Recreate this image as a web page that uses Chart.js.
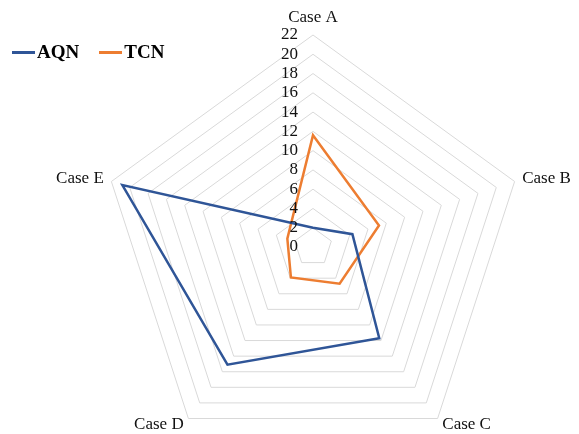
<!DOCTYPE html>
<html>
<head>
<meta charset="utf-8">
<script src="https://cdn.jsdelivr.net/npm/chart.js@4.4.1/dist/chart.umd.min.js"></script>
<style>
    body { margin: 0; background: #fff; overflow: hidden; }
    #wrap { position: relative; width: 579px; height: 434px; overflow: hidden; }
    #legende { position: absolute; left: 12px; top: 41px; font: bold 19px "Liberation Serif", serif; color: #000; white-space: nowrap; }
    #legende span.item { display: inline-block; margin-right: 20px; }
    #legende span.trait { display: inline-block; width: 23px; height: 3px; vertical-align: middle; margin-right: 2px; position: relative; top: -1px; }
</style>
</head>
<body>
<div id="wrap">
    <!-- canvas taller than the frame: Excel fits the pentagon, Chart.js fits the circle -->
    <canvas id="radarChart" width="579" height="460"></canvas>
    <div id="legende"></div>
</div>
<script>
const cases = ["Case A", "Case B", "Case C", "Case D", "Case E"];

const aqn = [2, 4.3, 11.7, 15.1, 20.8];
const tcn = [11.6, 7.2, 4.7, 3.9, 2.8];

const graduations = [0, 2, 4, 6, 8, 10, 12, 14, 16, 18, 20, 22];

const couleurs = { AQN: "#2F5597", TCN: "#ED7D31" };
const police = '"Liberation Serif", "Times New Roman", serif';

// tick labels to the left of the vertical axis, Excel style
const ticksGauche = {
    id: "ticksGauche",
    afterDraw(chart) {
        const r = chart.scales.r;
        const ctx = chart.ctx;
        ctx.save();
        ctx.font = "17px " + police;
        ctx.fillStyle = "#111";
        ctx.textAlign = "right";
        ctx.textBaseline = "middle";
        r.ticks.forEach(t => {
            const d = r.getDistanceFromCenterForValue(t.value);
            ctx.fillText(String(t.value), r.xCenter - 15, r.yCenter - d);
        });
        ctx.restore();
    }
};

// category labels around the pentagon
const labelsCases = {
    id: "labelsCases",
    afterDraw(chart) {
        const r = chart.scales.r;
        const ctx = chart.ctx;
        ctx.save();
        ctx.font = "17px " + police;
        ctx.fillStyle = "#111";
        cases.forEach((lbl, i) => {
            if (i === 0) {
                const p = r.getPointPosition(i, r.drawingArea + 13);
                ctx.textAlign = "center";
                ctx.textBaseline = "alphabetic";
                ctx.fillText(lbl, p.x, p.y);
                return;
            }
            const p = r.getPointPosition(i, r.drawingArea + 8);
            ctx.textAlign = p.x > r.xCenter ? "left" : "right";
            ctx.textBaseline = "middle";
            ctx.fillText(lbl, p.x, p.y);
        });
        ctx.restore();
    }
};

const chart = new Chart(document.getElementById("radarChart"), {
    type: "radar",
    data: {
        labels: cases,
        datasets: [{
            label: "AQN",
            data: aqn,
            borderColor: couleurs.AQN,
            backgroundColor: "transparent",
            borderWidth: 2.5,
            pointRadius: 0,
            fill: false,
            clip: false
        }, {
            label: "TCN",
            data: tcn,
            borderColor: couleurs.TCN,
            backgroundColor: "transparent",
            borderWidth: 2.5,
            pointRadius: 0,
            fill: false,
            clip: false
        }]
    },
    options: {
        responsive: false,
        animation: false,
        layout: {
            padding: { left: 101, right: 54, top: 35, bottom: 1 }
        },
        plugins: {
            legend: { display: false },
            tooltip: { enabled: false }
        },
        scales: {
            r: {
                min: graduations[0],
                max: graduations[graduations.length - 1],
                ticks: { display: false, stepSize: graduations[1] - graduations[0] },
                grid: { color: "#d9d9d9", lineWidth: 1 },
                angleLines: { display: false },
                pointLabels: { display: false }
            }
        }
    },
    plugins: [ticksGauche, labelsCases]
});

document.getElementById("legende").innerHTML = chart.data.datasets.map(ds =>
    '<span class="item"><span class="trait" style="background:' + ds.borderColor + '"></span>' + ds.label + '</span>'
).join("");
</script>
</body>
</html>
